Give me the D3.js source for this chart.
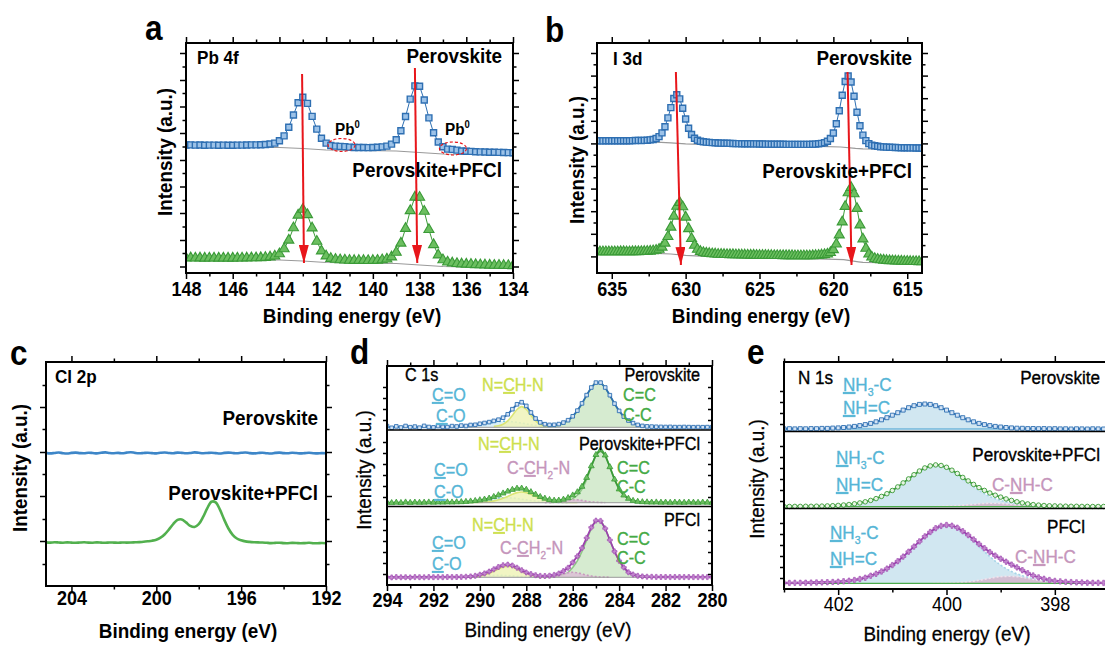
<!DOCTYPE html>
<html>
<head>
<meta charset="utf-8">
<script src="https://cdn.jsdelivr.net/npm/d3@7/dist/d3.min.js"></script>
<style>
html, body { margin: 0; padding: 0; background: #fff; }
svg { display: block; }
</style>
</head>
<body>
<svg id="fig" width="1105" height="648"></svg>
<script>
// ---------------- shared text ----------------
const panelLetters = ["a", "b", "c", "d", "e"];
const coreLevels = ["Pb 4f", "I 3d", "Cl 2p", "C 1s", "N 1s"];
const sampleNames = ["Perovskite", "Perovskite+PFCl", "PFCl"];
const xTitle = "Binding energy (eV)";
const yTitle = "Intensity (a.u.)";

// ---------------- Pb 4f ----------------
const pbStart = 148, pbStep = 0.2;
const pbPero = [
  128.0,128.1,127.9,128.0,127.8,127.9,127.9,127.8,127.9,127.8,
  127.8,127.9,127.9,128.0,128.1,128.1,128.3,128.5,129.0,129.9,
  132.2,137.1,145.8,158.0,170.3,175.7,169.6,156.6,143.9,134.8,
  129.9,127.5,126.9,126.6,126.4,125.9,125.5,125.5,125.5,125.4,
  125.5,125.7,126.1,126.9,128.9,133.3,142.2,156.5,173.9,187.1,
  186.8,173.0,155.1,140.3,131.0,126.2,123.9,123.6,122.9,122.0,
  121.8,121.6,121.3,121.1,121.0,120.8,120.7,120.6,120.5,120.4,
  120.3];
const pbMix = [
  15.0,15.1,14.9,15.0,14.8,14.9,14.9,14.8,14.9,14.8,
  14.8,14.9,14.9,15.0,15.1,15.1,15.3,15.5,16.0,16.9,
  19.2,24.1,32.8,45.2,57.8,63.6,58.3,45.0,31.6,22.0,
  17.0,14.5,13.6,13.1,12.9,12.6,12.5,12.5,12.5,12.4,
  12.5,12.7,13.1,13.9,16.0,20.6,29.8,44.5,62.3,75.8,
  75.6,61.6,43.4,28.3,18.0,13.2,10.9,10.0,9.4,9.0,
  8.8,8.6,8.3,8.1,8.0,7.8,7.7,7.6,7.5,7.4,
  7.3];
const pbBgPero = [[148,126],[144,125.5],[143,124.5],[142,123],[139,122],[138,120.5],[137,119],[134,118]];
const pbBgMix = [[148,13.5],[144,13],[143,12],[142,10.5],[139,9.5],[138,8],[137,6.5],[134,5]];
const pbShift = [[143.03,199,142.95,10],[138.2,205,138.1,10]];   // [BE, I] start -> [BE, I] end
const pbMetal = [[141.34,128],[136.57,124.5]];                    // Pb0 shoulders
const pbTicks = [148,146,144,142,140,138,136,134];
const pbMinor = [147,145,143,141,139,137,135];
const pbYMajor = [220,193,166.5,140,113,86.5,60,33,6.5];
const pbYMinor = [206.5,180,153,126.5,100,73,46.5,20];

// ---------------- I 3d ----------------
const iStart = 636, iStep = 0.2;
const iPero = [
  132.2,132.2,132.1,132.2,132.2,132.2,132.2,132.3,132.3,132.3,
  132.2,132.3,132.4,132.5,132.6,132.5,132.6,132.8,133.1,133.5,
  134.5,136.4,140.1,146.2,155.1,165.4,174.5,178.2,174.1,164.7,
  154.0,144.8,138.5,134.8,132.8,131.8,131.2,130.9,130.6,130.4,
  130.2,130.0,129.9,129.8,129.7,129.6,129.5,129.4,129.4,129.3,
  129.3,129.2,129.2,129.1,129.1,129.0,129.0,128.9,128.9,128.8,
  128.8,128.7,128.7,128.7,128.6,128.6,128.6,128.6,128.6,128.6,
  128.6,128.6,128.6,128.8,128.9,129.2,129.6,130.2,131.7,134.5,
  140.0,149.2,162.3,177.8,191.5,197.0,191.0,176.8,160.8,147.2,
  137.9,132.4,129.4,127.9,127.2,126.7,126.3,126.1,125.9,125.7,
  125.6,125.5,125.4,125.3,125.3,125.2,125.1,125.1,125.0,125.0,
  124.9];
const iMix = [
  21.2,21.2,21.1,21.2,21.1,21.2,21.2,21.2,21.3,21.3,
  21.1,21.2,21.3,21.3,21.3,21.4,21.5,21.6,21.8,22.1,
  22.6,23.7,25.8,29.8,36.4,45.8,56.8,66.6,70.5,66.1,
  55.8,44.3,34.4,27.7,23.7,21.5,20.4,19.8,19.5,19.2,
  19.0,18.7,18.6,18.5,18.4,18.3,18.3,18.2,18.1,18.0,
  18.0,17.9,17.8,17.8,17.7,17.7,17.6,17.6,17.5,17.5,
  17.4,17.4,17.4,17.3,17.3,17.3,17.3,17.2,17.2,17.2,
  17.2,17.2,17.2,17.3,17.5,17.6,18.0,18.3,18.9,20.4,
  23.3,28.9,38.0,51.0,66.5,80.1,85.5,79.1,64.5,48.0,
  34.0,24.6,18.9,15.9,14.4,13.6,13.2,12.8,12.5,12.3,
  12.1,12.0,11.9,11.8,11.7,11.6,11.5,11.4,11.4,11.3,
  11.2];
const iBgPero = [[636,131],[632,130.8],[631,130.2],[630,129.2],[629,128.7],[625,127.6],[621,126.6],[619.5,126],[618.5,124.6],[618,124.2],[614,123.6]];
const iBgMix = [[636,20],[632,19.6],[631,19],[630,17.6],[629,16.8],[625,15.4],[621,14.2],[619.3,13.4],[618.3,11.2],[618,10.6],[614,9.8]];
const iShift = [[630.66,201,630.32,8],[619.04,201,618.77,8]];
const iTicks = [635,630,625,620,615];
const iMinor = [632.5,627.5,622.5,617.5];
const iYMajor = [220,197.4,174.8,152.2,129.6,107,84.4,61.8,39.2,16.6];
const iYMinor = [208.7,186.1,163.5,140.9,118.3,95.7,73.1,50.5,27.9];

// ---------------- Cl 2p ----------------
const clStart = 205.2, clStep = 0.2;
const clPero = [
  133.2,132.6,133.0,133.5,132.8,132.5,133.1,133.4,132.9,132.7,
  133.3,133.0,132.6,133.2,133.6,133.0,132.8,133.1,132.7,133.4,
  133.8,133.1,132.7,133.0,133.3,132.9,132.6,133.2,133.5,133.0,
  132.8,133.4,133.1,132.7,133.0,133.6,133.2,132.8,133.0,133.3,
  132.9,132.5,133.1,133.4,133.0,132.7,133.2,133.5,132.9,132.6,
  133.0,133.3,132.8,132.5,133.1,133.4,132.9,132.7,133.2,133.0,
  132.6,132.9,133.2,132.8,132.6,132.9,132.7];
const clMix = [
  43.6,43.4,43.7,43.5,43.3,43.6,43.4,43.2,43.5,43.7,
  43.4,43.3,43.6,43.4,43.2,43.5,43.4,43.3,43.5,43.4,
  43.5,43.7,43.9,44.2,44.7,45.3,46.3,48.3,51.8,56.6,
  62.0,66.1,66.5,63.6,60.1,59.0,61.8,68.8,77.6,84.3,
  83.7,76.3,66.4,57.5,51.2,47.5,45.7,44.6,44.1,43.8,
  43.6,43.5,43.2,42.9,43.1,43.3,42.9,42.8,43.1,43.0,
  42.7,42.9,43.2,42.8,42.7,43.0,42.8];
const clTicks = [204,200,196,192];
const clMinor = [202,198,194];
const clYMajor = [45,90,134,179];
const clYMinor = [22,67,112,157,201];

// ---------------- C 1s ----------------
const cStart = 294, cStep = 0.2;
const cPero = [
  158.9,157.2,158.6,157.5,159.0,157.8,158.4,157.3,159.1,158.0,
  157.6,158.9,158.1,157.9,158.9,158.5,159.4,159.0,160.0,160.2,
  161.2,162.0,162.9,164.1,165.3,167.3,170.7,175.8,180.7,182.8,
  179.1,172.5,166.5,162.6,160.8,160.1,160.2,160.9,162.4,164.8,
  168.7,174.4,181.6,189.9,197.5,202.4,202.4,197.5,189.8,181.4,
  174.1,168.4,164.5,161.9,160.1,159.1,158.6,158.4,158.2,158.1,
  158.0,158.1,157.9,157.9,158.0,157.9,157.8,157.9,157.8,157.9,
  157.8];
const cMix = [
  82.6,82.1,82.5,82.2,82.7,82.3,82.6,82.4,82.5,82.7,
  82.5,82.7,82.6,82.8,82.7,82.9,83.0,83.3,83.7,84.2,
  84.9,85.6,86.6,88.2,89.9,91.7,93.6,95.3,96.5,96.6,
  95.4,93.0,90.5,88.2,86.5,85.2,84.5,84.6,85.5,87.1,
  89.7,92.9,98.4,107.3,118.9,130.2,134.9,129.7,118.0,105.6,
  95.8,89.7,86.4,84.3,83.4,83.0,82.8,82.6,82.7,82.5,
  82.6,82.4,82.6,82.5,82.4,82.6,82.5,82.4,82.6,82.5,
  82.4];
const cPfcl = [
  7.8,7.6,7.9,7.7,7.8,7.6,7.9,7.8,7.7,7.9,
  7.8,7.9,7.8,8.0,7.9,8.0,8.1,8.3,8.6,9.2,
  10.3,11.6,13.4,15.7,18.0,19.8,20.4,19.5,17.3,14.8,
  12.5,10.9,9.8,9.1,9.0,9.3,10.1,11.5,13.9,17.2,
  22.6,28.7,37.0,47.1,57.6,64.4,64.1,56.5,45.0,33.6,
  24.2,17.6,12.7,10.5,9.2,8.6,8.3,8.2,8.1,8.0,
  8.0,7.9,8.0,7.9,7.9,7.9,7.9,7.9,7.8,7.9,
  7.8];
const cBase = [157.7, 82.3, 7.7];       // background level of each stacked spectrum
const cPeroCC = [[287.4,0.3],[287.2,0.55],[287.0,0.8],[286.8,1.3],[286.6,2.3],[286.4,4.0],[286.2,6.6],[286.0,10.5],[285.8,16.2],[285.6,23.5],[285.4,31.8],[285.2,39.5],[285.0,44.4],[284.8,44.4],[284.6,39.5],[284.4,31.8],[284.2,23.5],[284.0,16.2],[283.8,10.5],[283.6,6.6],[283.4,4.0],[283.2,2.3],[283.0,1.3],[282.8,0.8],[282.6,0.55],[282.4,0.3]];
const cPeroNCHN = [[289.4,0.9],[289.2,1.5],[289.0,3.1],[288.8,6.5],[288.6,11.9],[288.4,17.8],[288.2,20.7],[288.0,17.8],[287.8,11.9],[287.6,6.5],[287.4,3.1],[287.2,1.5],[287.0,0.9]];
const cPeroCO = [[291.4,0.3],[291.0,0.54],[290.6,1.0],[290.2,2.0],[289.8,3.4],[289.4,5.0],[289.0,6.0],[288.6,5.6],[288.2,4.2],[287.8,2.6],[287.4,1.4],[287.0,0.7],[286.6,0.4]];
const cMixCC = [[287.0,0.35],[286.6,0.7],[286.4,1.1],[286.2,2.0],[286.0,4.1],[285.8,7.4],[285.6,13.5],[285.4,23.3],[285.2,35.6],[285.0,47.3],[284.8,52.3],[284.6,47.3],[284.4,35.6],[284.2,23.3],[284.0,13.5],[283.8,7.4],[283.6,4.1],[283.4,2.0],[283.2,1.1],[283.0,0.7],[282.6,0.35]];
const cMixNCHN = [[290.6,0.15],[290.2,0.25],[289.8,0.5],[289.6,0.8],[289.4,1.8],[289.2,2.9],[289.0,4.45],[288.8,6.3],[288.6,8.35],[288.4,10.05],[288.2,10.7],[288.0,10.05],[287.8,8.35],[287.6,6.3],[287.4,4.45],[287.2,2.9],[287.0,1.8],[286.8,0.8],[286.6,0.5],[286.2,0.25],[285.8,0.15]];
const cMixCO = [[291.8,0.2],[291.4,0.3],[291.0,0.45],[290.6,0.86],[290.2,1.65],[289.8,2.8],[289.4,4.15],[289.0,5.0],[288.6,4.7],[288.2,3.5],[287.8,2.2],[287.4,1.2],[287.0,0.6],[286.6,0.33],[286.2,0.2]];
const cMixCH2N = [[287.2,0.1],[287.0,0.2],[286.8,0.44],[286.6,0.84],[286.4,1.5],[286.2,2.3],[286.0,2.9],[285.8,2.9],[285.6,2.3],[285.4,1.5],[285.2,0.84],[285.0,0.44],[284.8,0.2],[284.6,0.1]];
const cPfclCC = [[287.2,0.45],[286.8,0.9],[286.6,1.5],[286.4,2.8],[286.2,5.0],[286.0,9.9],[285.8,16.5],[285.6,25.9],[285.4,37.2],[285.2,48.6],[285.0,56.0],[284.8,56.0],[284.6,48.6],[284.4,37.2],[284.2,25.9],[284.0,16.5],[283.8,9.9],[283.6,5.0],[283.4,2.8],[283.2,1.5],[283.0,0.9],[282.6,0.45]];
const cPfclNCHN = [[290.4,0.4],[290.2,0.7],[290.0,1.5],[289.8,2.5],[289.6,4.0],[289.4,6.1],[289.2,8.3],[289.0,10.2],[288.8,11.0],[288.6,10.2],[288.4,8.3],[288.2,6.1],[288.0,4.0],[287.8,2.5],[287.6,1.5],[287.4,0.7],[287.2,0.4]];
const cPfclCO = [[291.0,0.15],[290.6,0.33],[290.2,0.75],[289.8,1.4],[289.4,1.9],[289.2,2.0],[289.0,1.9],[288.6,1.4],[288.2,0.75],[287.8,0.33],[287.4,0.15]];
const cPfclCH2N = [[287.6,0.1],[287.2,0.35],[287.0,0.7],[286.8,1.3],[286.6,2.2],[286.4,3.4],[286.2,4.5],[286.0,5.0],[285.8,4.5],[285.6,3.4],[285.4,2.2],[285.2,1.3],[285.0,0.7],[284.8,0.35],[284.4,0.1]];
const cLayers = [155, 78.5];
const cTicks = [294,292,290,288,286,284,282,280];
const cMinor = [293,291,289,287,285,283,281];

// ---------------- N 1s ----------------
const nStart = 403, nStep = 0.1;
const nPero = [
  160.1,160.3,160.1,160.3,160.2,160.4,160.3,160.6,160.6,160.9,
  161.1,161.5,162.0,162.6,163.4,164.4,165.6,167.2,169.2,171.3,
  173.8,176.3,178.9,181.3,183.3,184.6,185.0,184.6,183.3,181.3,
  178.9,176.3,173.8,171.3,169.2,167.2,165.6,164.4,163.4,162.6,
  162.0,161.5,161.1,160.8,160.7,160.4,160.5,160.3,160.4,160.2,
  160.3,160.1,160.2,160.0,160.2,160.1,160.0,160.2,160.1,160.0,
  160.1];
const nMix = [
  82.5,82.5,82.6,82.6,82.7,82.7,82.8,82.9,83.1,83.3,
  83.6,84.0,84.5,85.2,86.1,87.2,88.6,90.4,92.6,95.3,
  98.5,102.1,106.1,110.1,114.3,118.0,121.1,123.1,124.1,123.5,
  121.7,118.8,115.5,111.6,108.1,104.6,101.4,98.6,96.0,93.8,
  91.9,90.1,88.6,87.2,86.1,85.1,84.4,83.9,83.5,83.2,
  83.1,82.9,82.8,82.7,82.7,82.6,82.6,82.5,82.5,82.5,
  82.5];
const nPfcl = [
  6.1,6.1,6.2,6.2,6.3,6.4,6.5,6.6,6.8,7.0,
  7.3,7.7,8.3,9.0,10.0,11.3,13.3,15.2,17.5,20.4,
  23.9,27.8,32.4,37.3,42.4,47.6,52.6,57.0,60.8,63.1,
  64.0,63.3,61.3,57.8,53.9,49.5,45.0,40.8,36.9,33.4,
  30.3,27.3,24.4,21.6,18.8,15.8,13.5,11.6,10.2,9.0,
  8.1,7.6,7.1,6.9,6.6,6.5,6.3,6.2,6.2,6.1,
  6.1];
const nBase = [160, 82.3, 5.7];
const nPeroNH = [[402.4,0.4],[402.2,0.65],[402.0,1.1],[401.8,2.0],[401.6,3.4],[401.4,5.65],[401.2,9.15],[401.0,13.8],[400.8,18.9],[400.6,23.3],[400.4,25.0],[400.2,23.3],[400.0,18.9],[399.8,13.8],[399.6,9.15],[399.4,5.65],[399.2,3.4],[399.0,2.0],[398.8,1.1],[398.6,0.65],[398.4,0.4]];
const nMixNH = [[402.6,0.35],[402.4,0.5],[402.2,0.75],[402.0,1.25],[401.8,2.2],[401.6,3.8],[401.4,6.3],[401.2,10.25],[401.0,16.2],[400.8,23.8],[400.6,32.0],[400.4,38.8],[400.2,41.5],[400.0,38.8],[399.8,32.0],[399.6,23.8],[399.4,16.2],[399.2,10.25],[399.0,6.3],[398.8,3.8],[398.6,2.2],[398.4,1.25],[398.2,0.75],[398.0,0.5],[397.8,0.35]];
const nMixCNHC = [[400.3,0.2],[400.1,0.43],[399.9,0.84],[399.7,1.54],[399.5,2.45],[399.3,3.27],[399.1,3.48],[398.9,2.9],[398.7,1.98],[398.5,1.15],[398.3,0.6],[398.1,0.3],[397.9,0.15]];
const nPfclNH = [[403.0,0.35],[402.6,0.55],[402.4,0.75],[402.2,1.05],[402.0,1.6],[401.8,2.6],[401.6,4.3],[401.4,7.55],[401.2,11.8],[401.0,18.2],[400.8,26.7],[400.6,36.7],[400.4,46.9],[400.2,55.0],[400.0,58.0],[399.8,55.0],[399.6,46.9],[399.4,36.7],[399.2,26.7],[399.0,18.2],[398.8,11.8],[398.6,7.55],[398.4,4.3],[398.2,2.6],[398.0,1.6],[397.8,1.05],[397.6,0.75],[397.4,0.55],[397.0,0.35]];
const nPfclCNHC = [[400.25,0.1],[400.05,0.25],[399.85,0.55],[399.65,1.25],[399.45,2.6],[399.25,4.5],[399.05,6.4],[398.85,7.0],[398.65,6.4],[398.45,4.5],[398.25,2.6],[398.05,1.25],[397.85,0.55],[397.65,0.25],[397.45,0.1]];
const nLayers = [157.5, 80.5];
const nTicks = [402,400,398];
const nMinor = [403,401,399,397];
const stackYTicks = [11,22,33,44,55,66,88,99,110,121,132,143,165,176,187,198];

// ---------------- style ----------------
const FONT = "'Liberation Sans', Arial, Helvetica, sans-serif";
const SX = 0.9;   // horizontal glyph compression of the figure typeface
const COL = {
  pero: "#2e6fb2", peroFill: "#9cc2e8",
  mix: "#3a9a37", mixFill: "#6cbf60",
  pfcl: "#9b42ad", pfclFill: "#c58ad0",
  bg: "#9a9a9a", arrow: "#e8161b",
  co: "#55b5d6", nchn: "#cddf4e", cc: "#44aa44", ch2n: "#c595bb",
  ccFill: "#cfe7c8", nchnFill: "#eef3b8", coFill: "#d6edf6", ch2nFill: "#dcc0d6",
  nhFill: "#c9e3ee", cnhcFill: "#d3b6cd"
};
const U = { u: 1 }, SUB = { sub: 1 }, SUP = { sup: 1 };

const svg = d3.select("#fig");
const defs = svg.append("defs");
defs.append("marker").attr("id", "arrowHead")
  .attr("viewBox", "0 0 10 10").attr("refX", 10).attr("refY", 5)
  .attr("markerUnits", "userSpaceOnUse").attr("markerWidth", 18).attr("markerHeight", 10)
  .attr("preserveAspectRatio", "none").attr("orient", "auto")
  .append("path").attr("d", "M0,0 L10,5 L0,10 Z").attr("fill", COL.arrow);

const series = (start, step, vals) => vals.map((v, i) => [+(start - i * step).toFixed(3), v]);

function makePanel(box, xDom, yDom, id) {
  const x = d3.scaleLinear().domain(xDom).range([box.left, box.right]);
  const y = d3.scaleLinear().domain(yDom).range([box.bottom, box.top]);
  const g = svg.append("g");
  defs.append("clipPath").attr("id", id).append("rect")
    .attr("x", box.left).attr("y", box.top)
    .attr("width", box.right - box.left).attr("height", box.bottom - box.top);
  const plot = g.append("g").attr("clip-path", `url(#${id})`);
  const over = g.append("g");
  return { box, x, y, g, plot, over };
}

function label(parent, x, y, parts, o = {}) {
  const size = o.size || 18;
  const g = parent.append("g")
    .attr("transform", `translate(${x},${y})${o.rotate ? " rotate(-90)" : ""} scale(${SX},1)`);
  const t = g.append("text")
    .attr("text-anchor", o.anchor || "start")
    .attr("font-family", FONT).attr("font-size", size)
    .attr("font-weight", o.weight || "bold")
    .attr("fill", o.color || "#000");
  if (o.heavy) t.attr("stroke", o.color || "#000").attr("stroke-width", o.heavy);
  const list = typeof parts === "string" ? [[parts]] : parts;
  let shift = 0;
  list.forEach(([s, f]) => {
    f = f || {};
    const ts = t.append("tspan").text(s);
    const target = f.sub ? size * 0.28 : f.sup ? -size * 0.42 : 0;
    if (target !== shift) { ts.attr("dy", target - shift); shift = target; }
    if (f.sub || f.sup) ts.attr("font-size", size * 0.62);
    if (f.u) ts.attr("text-decoration", "underline");
  });
  return g;
}

function axes(p, o) {
  const { box, x, y, over } = p;
  const put = (gen, tx, ty) => {
    const g = over.append("g").attr("transform", `translate(${tx},${ty})`).call(gen);
    g.select(".domain").remove();
    g.selectAll("line").attr("stroke", "#000").attr("stroke-width", 1.5);
    return g;
  };
  const b = put(d3.axisBottom(x).tickValues(o.major).tickSize(6).tickFormat(d3.format("d")), 0, box.bottom);
  b.selectAll("text").attr("y", o.gap).attr("dy", null)
    .attr("font-family", FONT).attr("font-size", o.fs).attr("font-weight", o.fw)
    .attr("fill", "#000").attr("transform", `scale(${SX},1)`);
  put(d3.axisBottom(x).tickValues(o.minor).tickSize(3.5).tickFormat(""), 0, box.bottom);
  put(d3.axisTop(x).tickValues(o.major).tickSize(6).tickFormat(""), 0, box.top);
  put(d3.axisTop(x).tickValues(o.minor).tickSize(3.5).tickFormat(""), 0, box.top);
  if (o.yMajor) {
    put(d3.axisLeft(y).tickValues(o.yMajor).tickSize(6).tickFormat(""), box.left, 0);
    put(d3.axisRight(y).tickValues(o.yMajor).tickSize(6).tickFormat(""), box.right, 0);
  }
  if (o.yMinor) {
    put(d3.axisLeft(y).tickValues(o.yMinor).tickSize(3.5).tickFormat(""), box.left, 0);
    put(d3.axisRight(y).tickValues(o.yMinor).tickSize(3.5).tickFormat(""), box.right, 0);
  }
  if (o.yStack) {
    put(d3.axisLeft(y).tickValues(o.yStack).tickSize(4).tickFormat(""), box.left, 0);
    put(d3.axisLeft(y).tickValues(o.yStack).tickSize(4).tickFormat(""), box.right, 0);
  }
  over.append("rect")
    .attr("x", box.left).attr("y", box.top)
    .attr("width", box.right - box.left).attr("height", box.bottom - box.top)
    .attr("fill", "none").attr("stroke", "#000").attr("stroke-width", 2);
}

function drawLine(p, data, color, width, curve, dash) {
  return p.plot.append("path").datum(data)
    .attr("fill", "none").attr("stroke", color).attr("stroke-width", width)
    .attr("stroke-linejoin", "round")
    .attr("stroke-dasharray", dash || null)
    .attr("d", d3.line().x(d => p.x(d[0])).y(d => p.y(d[1])).curve(curve || d3.curveLinear));
}

function drawMarks(p, data, type, size, fill, stroke, sw) {
  p.plot.append("g").selectAll("path").data(data).join("path")
    .attr("transform", d => `translate(${p.x(d[0])},${p.y(d[1])})`)
    .attr("d", d3.symbol().type(type).size(size))
    .attr("fill", fill).attr("stroke", stroke).attr("stroke-width", sw == null ? 1 : sw);
}

function drawComponent(p, comp, base, fill, stroke, dash) {
  p.plot.append("path").datum(comp)
    .attr("fill", fill).attr("fill-opacity", 0.85).attr("stroke", "none")
    .attr("d", d3.area().x(d => p.x(d[0])).y0(p.y(base)).y1(d => p.y(base + d[1])).curve(d3.curveMonotoneX));
  p.plot.append("path").datum(comp)
    .attr("fill", "none").attr("stroke", stroke).attr("stroke-width", 1.6)
    .attr("stroke-dasharray", dash || null)
    .attr("d", d3.line().x(d => p.x(d[0])).y(d => p.y(base + d[1])).curve(d3.curveMonotoneX));
}

function drawArrows(p, list) {
  list.forEach(([e0, v0, e1, v1]) => {
    p.plot.append("line")
      .attr("x1", p.x(e0)).attr("y1", p.y(v0)).attr("x2", p.x(e1)).attr("y2", p.y(v1))
      .attr("stroke", COL.arrow).attr("stroke-width", 2).attr("marker-end", "url(#arrowHead)");
  });
}

const bigFont = { size: 21 };

// ================= panel a : Pb 4f =================
const A = makePanel({ left: 186, right: 513, top: 43, bottom: 273 }, [148, 134], [0, 230], "clipA");
drawLine(A, pbBgPero, COL.bg, 1.2);
drawLine(A, pbBgMix, COL.bg, 1.2);
const pbP = series(pbStart, pbStep, pbPero), pbM = series(pbStart, pbStep, pbMix);
drawLine(A, pbP, COL.pero, 1);
drawMarks(A, pbP, d3.symbolSquare, 36, COL.peroFill, COL.pero, 1.4);
drawLine(A, pbM, COL.mix, 1);
drawMarks(A, pbM, d3.symbolTriangle, 44, COL.mixFill, COL.mix, 1.1);
pbMetal.forEach(([e, v]) => {
  A.plot.append("ellipse").attr("cx", A.x(e)).attr("cy", A.y(v)).attr("rx", 13.5).attr("ry", 6.5)
    .attr("fill", "none").attr("stroke", COL.arrow).attr("stroke-width", 1.2).attr("stroke-dasharray", "3,2");
});
drawArrows(A, pbShift);
axes(A, { major: pbTicks, minor: pbMinor, gap: 23, fs: 20, fw: "bold", yMajor: pbYMajor, yMinor: pbYMinor });
label(A.over, 197, 64, coreLevels[0], { size: 19 });
label(A.over, 502, 63, sampleNames[0], { ...bigFont, anchor: "end" });
label(A.over, 502, 177, sampleNames[1], { ...bigFont, anchor: "end" });
label(A.over, 335, 135, [["Pb"], ["0", SUP]], { size: 17 });
label(A.over, 445, 135, [["Pb"], ["0", SUP]], { size: 17 });

// ================= panel b : I 3d =================
const B = makePanel({ left: 597, right: 922, top: 43, bottom: 273 }, [636, 614], [0, 230], "clipB");
drawLine(B, iBgPero, COL.bg, 1.2);
drawLine(B, iBgMix, COL.bg, 1.2);
const iP = series(iStart, iStep, iPero), iM = series(iStart, iStep, iMix);
drawLine(B, iP, COL.pero, 1);
drawMarks(B, iP, d3.symbolSquare, 36, COL.peroFill, COL.pero, 1.4);
drawLine(B, iM, COL.mix, 1);
drawMarks(B, iM, d3.symbolTriangle, 44, COL.mixFill, COL.mix, 1.1);
drawArrows(B, iShift);
axes(B, { major: iTicks, minor: iMinor, gap: 23, fs: 20, fw: "bold", yMajor: iYMajor, yMinor: iYMinor });
label(B.over, 613, 65, coreLevels[1], { size: 19 });
label(B.over, 912, 65, sampleNames[0], { ...bigFont, anchor: "end" });
label(B.over, 912, 178, sampleNames[1], { ...bigFont, anchor: "end" });

// ================= panel c : Cl 2p =================
const C = makePanel({ left: 46, right: 326, top: 362, bottom: 586 }, [205.2, 192], [0, 224], "clipC");
drawLine(C, series(clStart, clStep, clPero), "#3d86c8", 2.6, d3.curveCatmullRom);
drawLine(C, series(clStart, clStep, clMix), "#52b04e", 2.6, d3.curveCatmullRom);
axes(C, { major: clTicks, minor: clMinor, gap: 19, fs: 20, fw: "bold", yMajor: clYMajor, yMinor: clYMinor });
label(C.over, 55, 383, coreLevels[2], { size: 19 });
label(C.over, 318, 425, sampleNames[0], { ...bigFont, anchor: "end" });
label(C.over, 318, 500, sampleNames[1], { ...bigFont, anchor: "end" });

// ================= panel d : C 1s =================
const D = makePanel({ left: 387, right: 712, top: 366, bottom: 585 }, [294, 280], [0, 219], "clipD");
[[cPeroCC, cPeroNCHN, cPeroCO, null], [cMixCC, cMixNCHN, cMixCO, cMixCH2N], [cPfclCC, cPfclNCHN, cPfclCO, cPfclCH2N]]
  .forEach(([cc, nchn, co, ch2n], k) => {
    const base = cBase[k];
    drawComponent(D, co, base, COL.coFill, "#7fc6e0", "2,2");
    drawComponent(D, cc, base, COL.ccFill, "#8fc887");
    drawComponent(D, nchn, base, COL.nchnFill, "#dbe577");
    if (ch2n) drawComponent(D, ch2n, base, COL.ch2nFill, "#c99cbf", "2,2");
    drawLine(D, [[294, base], [280, base]], COL.bg, 1);
  });
const cP = series(cStart, cStep, cPero), cM = series(cStart, cStep, cMix), cF = series(cStart, cStep, cPfcl);
drawLine(D, cP, COL.pero, 1.8);
drawMarks(D, cP, d3.symbolSquare, 13, "#d3e3f5", COL.pero, 0.9);
drawLine(D, cM, COL.mix, 1.8);
drawMarks(D, cM, d3.symbolTriangle, 15, COL.mixFill, COL.mix, 0.8);
drawLine(D, cF, COL.pfcl, 1.8);
drawMarks(D, cF, d3.symbolCross, 14, COL.pfclFill, COL.pfcl, 0.6);
cLayers.forEach(v => D.over.append("line").attr("x1", D.box.left).attr("x2", D.box.right)
  .attr("y1", D.y(v)).attr("y2", D.y(v)).attr("stroke", "#000").attr("stroke-width", 1.4));
axes(D, { major: cTicks, minor: cMinor, gap: 22, fs: 20, fw: "bold", yStack: stackYTicks });
const dFont = { size: 18, weight: "normal", heavy: 0.35 };
label(D.over, 405, 381, coreLevels[3], dFont);
label(D.over, 700, 381, sampleNames[0], { ...dFont, anchor: "end" });
label(D.over, 700, 450, sampleNames[1], { ...dFont, anchor: "end" });
label(D.over, 700, 526, sampleNames[2], { ...dFont, anchor: "end" });
const CO1 = [["C", U], ["=O"]], CO2 = [["C", U], ["-O"]];
const NCHN = [["N="], ["C", U], ["H-N"]];
const CH2N = [["C-"], ["C", U], ["H"], ["2", SUB], ["-N"]];
[
  [CO1, 432, 401, COL.co], [CO2, 436, 422, COL.co], [NCHN, 482, 391, COL.nchn],
  ["C=C", 623, 401, COL.cc], ["C-C", 623, 421, COL.cc],
  [NCHN, 478, 450, COL.nchn], [CH2N, 507, 474, COL.ch2n], [CO1, 434, 476, COL.co], [CO2, 434, 498, COL.co],
  ["C=C", 617, 474, COL.cc], ["C-C", 617, 493, COL.cc],
  [NCHN, 472, 531, COL.nchn], [CH2N, 500, 554, COL.ch2n], [CO1, 432, 549, COL.co], [CO2, 432, 570, COL.co],
  ["C=C", 617, 545, COL.cc], ["C-C", 617, 564, COL.cc]
].forEach(([t, x, y, c]) => label(D.over, x, y, t, { ...dFont, color: c }));

// ================= panel e : N 1s =================
const E = makePanel({ left: 784, right: 1109, top: 362, bottom: 589 }, [403, 397], [0, 227], "clipE");
drawComponent(E, nPeroNH, nBase[0], COL.nhFill, "#a6d4e8", "2,2");
drawComponent(E, nMixNH, nBase[1], COL.nhFill, "#a6d4e8", "2,2");
drawComponent(E, nMixCNHC, nBase[1], COL.cnhcFill, "#efe2ec", "2,2");
drawComponent(E, nPfclNH, nBase[2], COL.nhFill, "#a6d4e8", "2,2");
drawComponent(E, nPfclCNHC, nBase[2], COL.cnhcFill, "#efe2ec", "2,2");
drawLine(E, [[403, nBase[0]], [397, nBase[0]]], "#6fb6da", 1.3);
drawLine(E, [[403, nBase[1]], [397, nBase[1]]], "#4cab4c", 1.3);
drawLine(E, [[403, nBase[2]], [397, nBase[2]]], "#4cab4c", 1.3);
const nP = series(nStart, nStep, nPero), nM = series(nStart, nStep, nMix), nF = series(nStart, nStep, nPfcl);
drawLine(E, nP, COL.pero, 1.8);
drawMarks(E, nP, d3.symbolSquare, 16, "#d3e3f5", COL.pero, 0.9);
drawLine(E, nM, COL.mix, 1.8);
drawMarks(E, nM, d3.symbolCircle, 16, "#e8f5e4", COL.mix, 0.9);
drawLine(E, nF, COL.pfcl, 1.8);
drawMarks(E, nF, d3.symbolCross, 16, COL.pfclFill, COL.pfcl, 0.6);
nLayers.forEach(v => E.over.append("line").attr("x1", E.box.left).attr("x2", E.box.right)
  .attr("y1", E.y(v)).attr("y2", E.y(v)).attr("stroke", "#000").attr("stroke-width", 1.4));
axes(E, { major: nTicks, minor: nMinor, gap: 22, fs: 20, fw: "normal", yStack: stackYTicks });
const eFont = { size: 19, weight: "normal", heavy: 0.35 };
label(E.over, 798, 384, coreLevels[4], eFont);
label(E.over, 1100, 384, sampleNames[0], { ...eFont, anchor: "end" });
label(E.over, 1100, 461, sampleNames[1], { ...eFont, anchor: "end" });
label(E.over, 1085, 533, sampleNames[2], { ...eFont, anchor: "end" });
const NH3C = [["N", U], ["H"], ["3", SUB], ["-C"]], NHC = [["N", U], ["H=C"]], CNHC = [["C-"], ["N", U], ["H-C"]];
[
  [NH3C, 843, 391, COL.co], [NHC, 843, 414, COL.co],
  [NH3C, 836, 464, COL.co], [NHC, 836, 491, COL.co], [CNHC, 992, 491, COL.ch2n],
  [NH3C, 830, 539, COL.co], [NHC, 830, 565, COL.co], [CNHC, 1015, 563, COL.ch2n]
].forEach(([t, x, y, c]) => label(E.over, x, y, t, { ...eFont, color: c }));

// ================= axis titles and panel letters =================
const titles = svg.append("g");
[[352, 323, "bold"], [761, 323, "bold"], [188, 638, "bold"], [548, 637, "normal"], [947, 641, "normal"]]
  .forEach(([x, y, w]) => label(titles, x, y, xTitle, { size: 21, weight: w, anchor: "middle", heavy: w === "normal" ? 0.3 : 0 }));
[[172, 152, "bold"], [584, 160, "bold"], [27, 468, "bold"], [371, 470, "normal"], [764, 479, "normal"]]
  .forEach(([x, y, w]) => label(titles, x, y, yTitle, { size: 21, weight: w, anchor: "middle", rotate: true, heavy: w === "normal" ? 0.3 : 0 }));
[[145, 40], [545, 42], [10, 365], [350, 364], [747, 364]]
  .forEach(([x, y], i) => label(titles, x, y, panelLetters[i], { size: 35 }));
</script>
</body>
</html>
